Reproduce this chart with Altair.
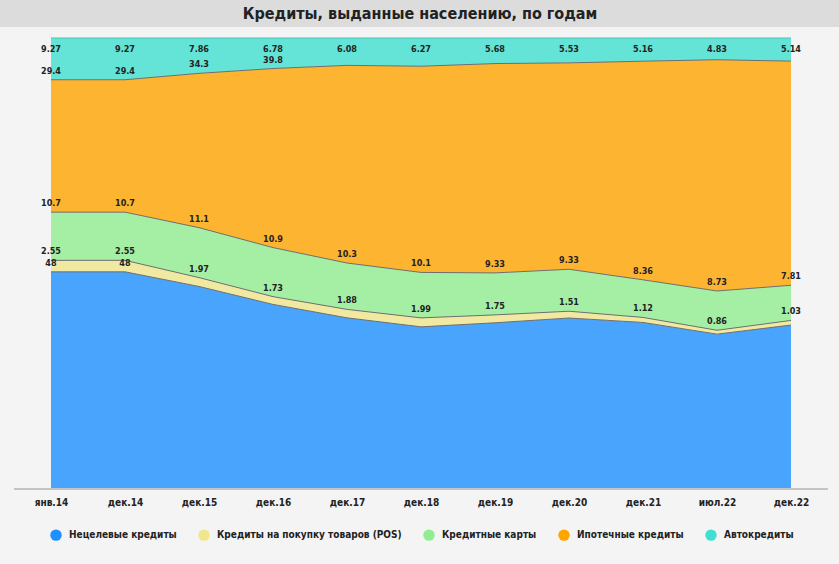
import altair as alt
import pandas as pd

# ---------------- data ----------------
dates = ["янв.14", "дек.14", "дек.15", "дек.16", "дек.17", "дек.18",
         "дек.19", "дек.20", "дек.21", "июл.22", "дек.22"]

series = ["Нецелевые кредиты", "Кредиты на покупку товаров (POS)",
          "Кредитные карты", "Ипотечные кредиты", "Автокредиты"]
colors = ["#1e90ff", "#f0e68c", "#90ee90", "#ffa500", "#40e0d0"]

unsecured = [48, 48, 44.8, 40.8, 37.8, 35.8, 36.7, 37.8, 36.8, 34.2, 36.2]
pos_loans = [2.55, 2.55, 1.97, 1.73, 1.88, 1.99, 1.75, 1.51, 1.12, 0.86, 1.03]
cards = [10.7, 10.7, 11.1, 10.9, 10.3, 10.1, 9.33, 9.33, 8.36, 8.73, 7.81]
mortgage = [29.4, 29.4, 34.3, 39.8, 43.9, 45.8, 46.5, 45.9, 48.6, 51.4, 49.8]
auto = [9.27, 9.27, 7.86, 6.78, 6.08, 6.27, 5.68, 5.53, 5.16, 4.83, 5.14]

values = [unsecured, pos_loans, cards, mortgage, auto]
# which data labels are visible in the reference, per series
shown = [[0, 1], list(range(11)), list(range(11)), [0, 1, 2, 3], list(range(11))]

title_text = "Кредиты, выданные населению, по годам"

rows = []
for si, (name, vals) in enumerate(zip(series, values)):
    for di, (d, v) in enumerate(zip(dates, vals)):
        rows.append(dict(date=d, series=name, order=si, value=v,
                         show=di in shown[si], label=f"{v:g}"))
df = pd.DataFrame(rows)

FONT = "DejaVu Sans Condensed, Liberation Sans, sans-serif"
TFONT = "Liberation Sans Narrow, DejaVu Sans Condensed, sans-serif"

W, H = 740, 450

x = alt.X("date:O", sort=dates,
          scale=alt.Scale(type="point", padding=0),
          axis=alt.Axis(title=None, labelAngle=0, ticks=False, domain=False,
                        grid=False, labelFont=FONT, labelFontWeight="bold",
                        labelFontSize=10, labelColor="#222222", labelPadding=9))
yscale = alt.Scale(domain=[0, 1])

base = alt.Chart(df).transform_stack(
    stack="value", groupby=["date"], as_=["y0", "y1"], offset="normalize",
    sort=[alt.SortField("order", order="ascending")]
)

area = base.mark_area(fillOpacity=0.8, strokeWidth=0).encode(
    x=x,
    y=alt.Y("y1:Q", scale=yscale, axis=None),
    y2="y0:Q",
    color=alt.Color("series:N", sort=series,
                    scale=alt.Scale(domain=series, range=colors),
                    legend=alt.Legend(title=None, orient="none", direction="horizontal",
                                      legendX=-1, legendY=491, symbolType="circle",
                                      symbolSize=130, symbolOpacity=1, symbolStrokeWidth=0,
                                      labelFont=FONT, labelFontSize=10, labelFontWeight="bold",
                                      labelColor="#222222", labelOffset=7, columnPadding=21,
                                      padding=0, labelLimit=400)),
    detail="series:N",
)

lines = base.mark_line(strokeWidth=1).encode(
    x=x,
    y=alt.Y("y1:Q", scale=yscale),
    detail="series:N",
    color=alt.condition("datum.order == 4", alt.value("#4fc2b8"), alt.value("#6e6e6e")),
)

labels_mid = base.transform_filter("datum.show && datum.order < 4").mark_text(
    font=FONT, fontSize=9, fontWeight="bold", color="#222222", dy=-9, baseline="middle"
).encode(x=x, y=alt.Y("y1:Q", scale=yscale), text="label:N")

labels_top = base.transform_filter("datum.show && datum.order == 4").mark_text(
    font=FONT, fontSize=9, fontWeight="bold", color="#222222", dy=11, baseline="middle"
).encode(x=x, y=alt.Y("y1:Q", scale=yscale), text="label:N")

axis_line = alt.Chart(pd.DataFrame({"a": [0]})).mark_rule(color="#b5b5b5", strokeWidth=1.5).encode(
    x=alt.value(-37), x2=alt.value(777), y=alt.value(451))

title_band = alt.Chart(pd.DataFrame({"a": [0]})).mark_rect(color="#dcdcdc").encode(
    x=alt.value(-51), x2=alt.value(788), y=alt.value(-38), y2=alt.value(-11))

title = alt.Chart(pd.DataFrame({"t": [title_text]})).mark_text(
    font=TFONT, fontSize=16, fontWeight="bold", color="#222222", align="center", baseline="middle"
).encode(x=alt.value(369), y=alt.value(-24), text="t:N")

chart = alt.layer(title_band, title, area, lines, labels_mid, labels_top, axis_line).properties(
    width=W, height=H,
    autosize=alt.AutoSizeParams(type="none"),
    padding={"left": 51, "top": 38, "right": 48, "bottom": 76},
    background="#f4f4f4",
).configure_view(stroke=None)

chart.save("out.html", embed_options={"renderer": "svg", "actions": False})
